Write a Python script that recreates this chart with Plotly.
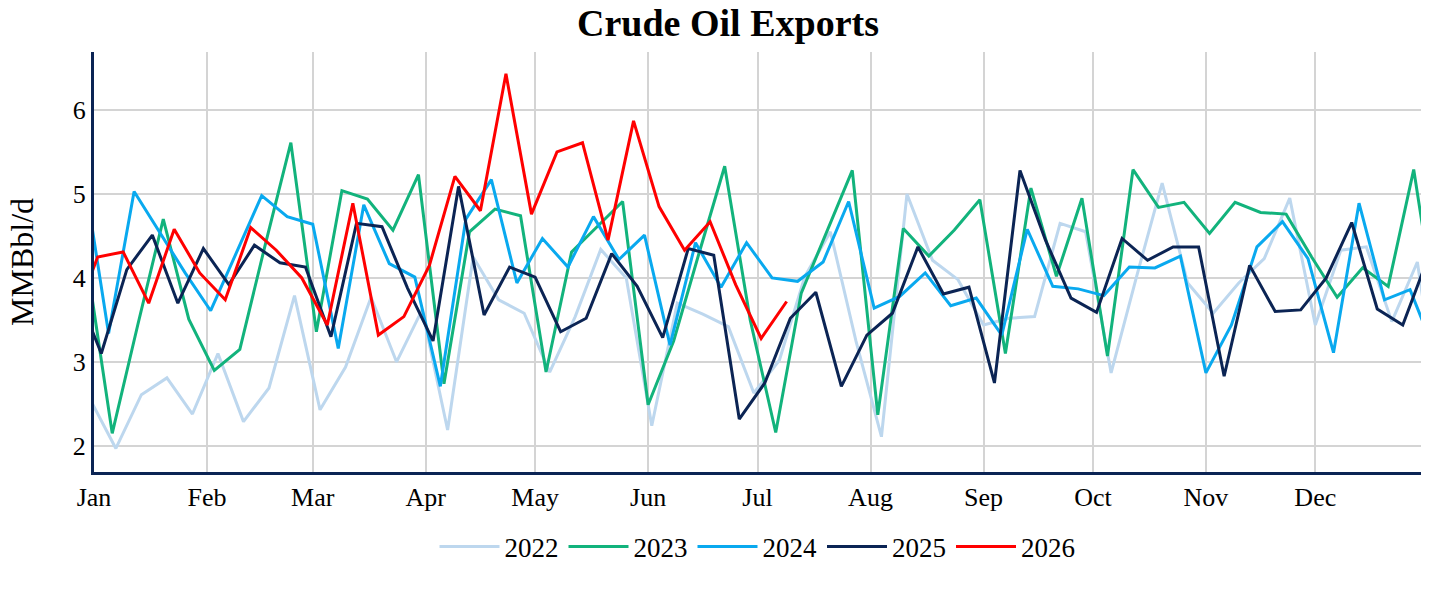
import pandas as pd
import plotly.graph_objects as go

# weekly crude oil exports, MMBbl/d (week ending dates)
years = [2022, 2023, 2024, 2025, 2026]
first_week = ['2022-01-07', '2023-01-06', '2024-01-05', '2025-01-03', '2026-01-02']
last_2021 = ('2021-12-31', 2.55)  # only used to lead the 2022 line in from the left

exp_2022 = [1.97, 2.61, 2.81, 2.38, 3.10, 2.29, 2.69, 3.79, 2.43, 2.94, 3.77, 3.00, 3.62,
            2.19, 4.25, 3.74, 3.58, 2.88, 3.54, 4.34, 4.00, 2.24, 3.70, 3.57, 3.42, 2.63,
            3.02, 4.02, 4.55, 3.25, 2.11, 5.00, 4.21, 3.98, 3.44, 3.52, 3.54, 4.65, 4.55,
            2.87, 4.02, 5.13, 3.94, 3.58, 3.94, 4.23, 4.95, 3.44, 4.33, 4.37, 3.48, 4.19]
exp_2023 = [2.15, 3.44, 4.70, 3.51, 2.90, 3.15, 4.40, 5.61, 3.36, 5.04, 4.94, 4.57, 5.23,
            2.74, 4.55, 4.82, 4.74, 2.88, 4.31, 4.61, 4.91, 2.49, 3.25, 4.30, 5.33, 3.50,
            2.16, 3.82, 4.56, 5.28, 2.37, 4.59, 4.26, 4.57, 4.93, 3.10, 5.07, 4.02, 4.95,
            3.07, 5.29, 4.84, 4.90, 4.53, 4.90, 4.78, 4.76, 4.25, 3.77, 4.12, 3.90, 5.29]
exp_2024 = [3.34, 5.03, 4.55, 4.06, 3.61, 4.29, 4.98, 4.73, 4.64, 3.16, 4.87, 4.17, 4.01,
            2.71, 4.70, 5.17, 3.94, 4.47, 4.13, 4.73, 4.22, 4.51, 3.20, 4.42, 3.89, 4.42,
            4.00, 3.96, 4.19, 4.91, 3.64, 3.78, 4.06, 3.67, 3.76, 3.32, 4.58, 3.90, 3.87,
            3.79, 4.13, 4.12, 4.26, 2.87, 3.44, 4.37, 4.67, 4.23, 3.11, 4.89, 3.74, 3.86]
exp_2025 = [3.10, 4.10, 4.51, 3.70, 4.35, 3.92, 4.39, 4.18, 4.13, 3.30, 4.65, 4.61, 3.88,
            3.25, 5.09, 3.56, 4.13, 4.01, 3.36, 3.52, 4.29, 3.90, 3.29, 4.35, 4.27, 2.32,
            2.75, 3.52, 3.83, 2.71, 3.32, 3.58, 4.37, 3.81, 3.89, 2.75, 5.28, 4.45, 3.76,
            3.59, 4.47, 4.21, 4.37, 4.37, 2.83, 4.15, 3.60, 3.62, 4.00, 4.66, 3.63, 3.44]
exp_2026 = [4.25, 4.31, 3.70, 4.58, 4.06, 3.74, 4.60, 4.33, 4.00, 3.44, 4.89, 3.32, 3.54,
            4.15, 5.21, 4.80, 6.43, 4.76, 5.50, 5.61, 4.45, 5.87, 4.85, 4.33, 4.67, 3.92,
            3.28, 3.72]

values = [exp_2022, exp_2023, exp_2024, exp_2025, exp_2026]
colors = ['#bdd7ee', '#12b37c', '#09a9ef', '#0b2454', '#ff0000']

base = pd.Timestamp('2024-01-01')  # common (leap) year used for the x axis
navy = '#0b2454'
serif = 'Liberation Serif'

series = []
for yr, start, vals in zip(years, first_week, values):
    dates = list(pd.date_range(start, periods=len(vals), freq='7D'))
    series.append((yr, dates, list(vals)))

fig = go.Figure()
for i, (yr, dates, vals) in enumerate(series):
    d = list(dates)
    v = list(vals)
    # join the line to the neighbouring years so it runs to the plot edges
    if i == 0:
        d.insert(0, pd.Timestamp(last_2021[0]))
        v.insert(0, last_2021[1])
    else:
        d.insert(0, series[i - 1][1][-1])
        v.insert(0, series[i - 1][2][-1])
    if i < len(series) - 1:
        d.append(series[i + 1][1][0])
        v.append(series[i + 1][2][0])
    jan1 = pd.Timestamp(yr, 1, 1)
    x = [base + (t - jan1) for t in d]
    fig.add_trace(go.Scatter(x=x, y=v, mode='lines', name=str(yr),
                             line=dict(color=colors[i], width=3)))

fig.update_layout(
    title=dict(text='Crude Oil Exports', x=0.5, xanchor='center', y=0.962, yanchor='middle',
               font=dict(family=serif, size=38, color='black', weight='bold')),
    width=1456,
    height=593,
    margin=dict(l=94, r=35, t=52, b=121),
    plot_bgcolor='white',
    paper_bgcolor='white',
    font=dict(family=serif, size=26, color='black'),
    showlegend=True,
    legend=dict(orientation='h', x=0.5, xanchor='center', y=-0.12, yanchor='top',
                itemwidth=60,
                font=dict(family=serif, size=27, color='black')),
)

fig.update_xaxes(
    type='date',
    range=['2024-01-01', '2024-12-30'],
    tick0='2024-01-01',
    dtick='M1',
    tickformat='%b',
    showgrid=True,
    gridcolor='#d4d4d4',
    gridwidth=1.5,
    showline=True,
    linecolor=navy,
    linewidth=3,
    ticks='',
    zeroline=False,
    tickfont=dict(family=serif, size=26, color='black'),
)

fig.update_yaxes(
    range=[1.69, 6.69],
    tick0=0,
    dtick=1,
    showgrid=True,
    gridcolor='#d4d4d4',
    gridwidth=1.5,
    showline=True,
    linecolor=navy,
    linewidth=3,
    ticks='',
    zeroline=False,
    tickfont=dict(family=serif, size=26, color='black'),
    title=dict(text='MMBbl/d', standoff=30, font=dict(family=serif, size=32, color='black')),
)

fig.write_html('out.html', config={'displayModeBar': False},
               post_script="document.body.style.margin='0';")
